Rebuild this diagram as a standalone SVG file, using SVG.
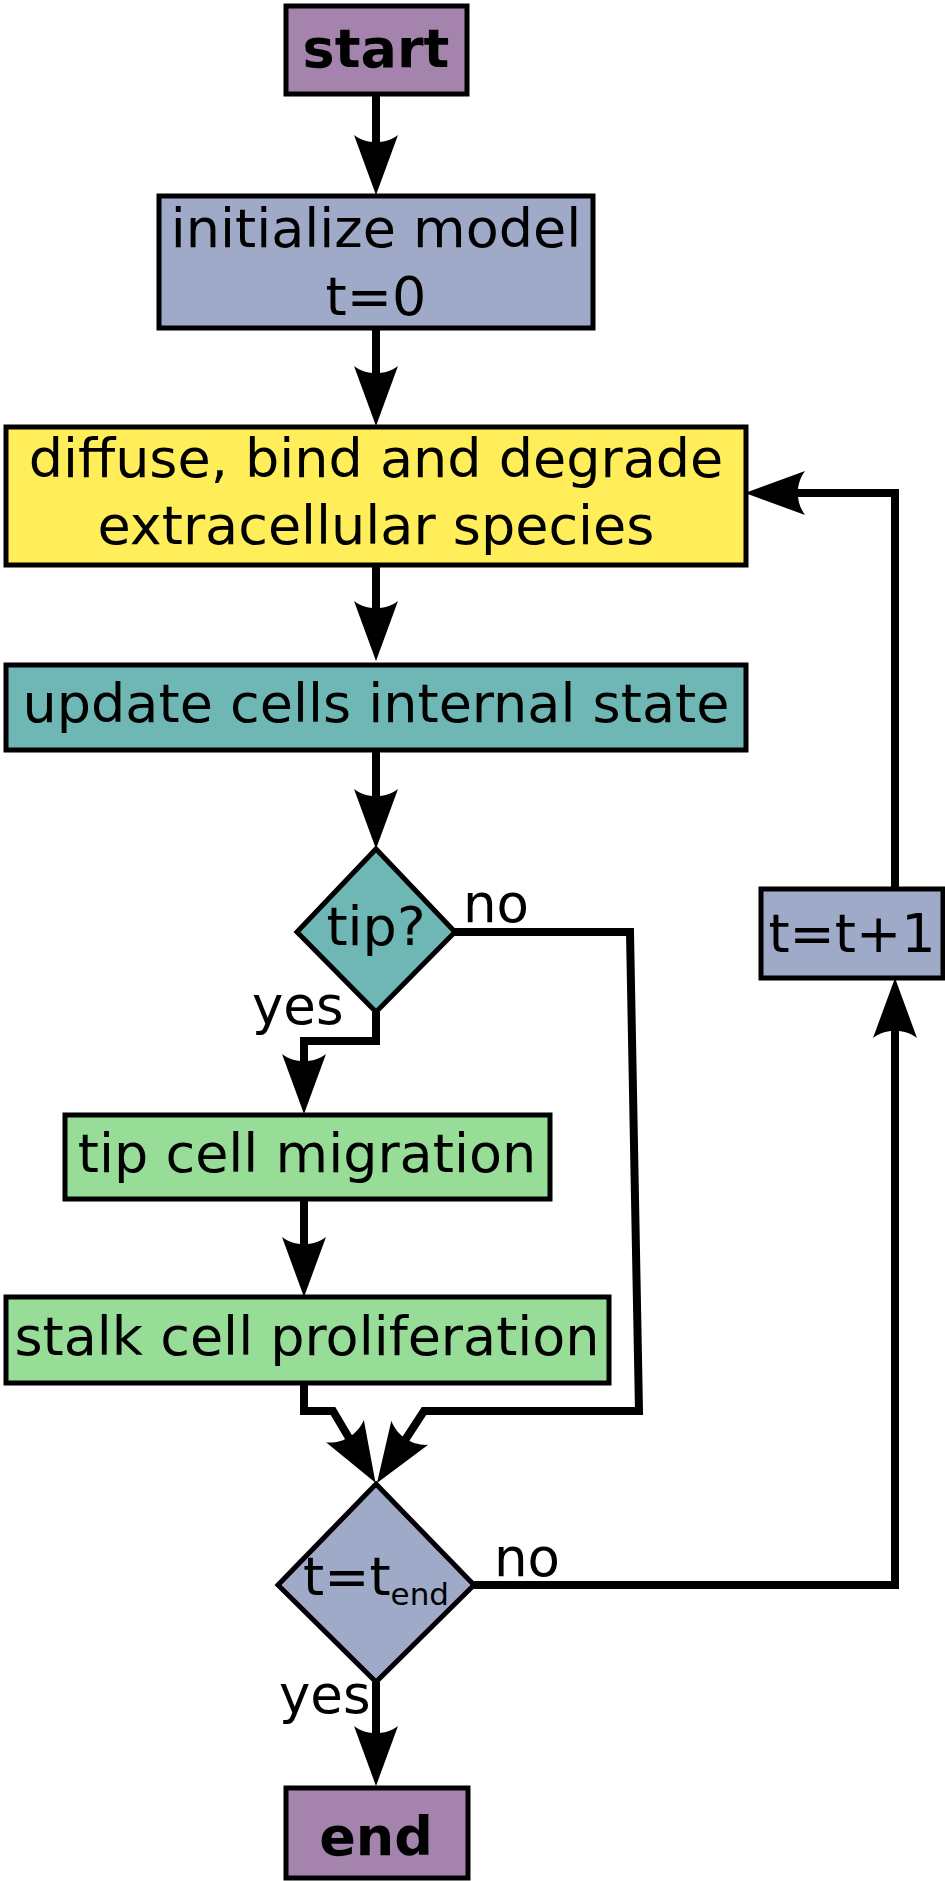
<svg xmlns="http://www.w3.org/2000/svg" width="945" height="1881" viewBox="0 0 945 1881">
  <style>
    .box { stroke: #000; stroke-width: 5; stroke-linejoin: miter; }
    .term { fill: #a484ac; }
    .grey { fill: #9eaac7; }
    .yellow { fill: #ffee5a; }
    .teal { fill: #6fb7b4; }
    .green { fill: #97dd97; }
    .t { font-family: "DejaVu Sans", "Noto Sans", sans-serif; font-size: 54px; fill: #000; text-anchor: middle; }
    .b { font-weight: bold; }
    .lbl { font-family: "DejaVu Sans", "Noto Sans", sans-serif; font-size: 53px; fill: #000; }
    .conn { fill: none; stroke: #000; stroke-width: 8; stroke-linejoin: miter; stroke-linecap: butt; }
  </style>
  <defs>
    <marker id="arrow" markerUnits="userSpaceOnUse" markerWidth="70" markerHeight="50" viewBox="0 -25 70 50" refX="8" refY="0" orient="auto" overflow="visible">
      <path d="M60,0 L0,-22 C9.6,-9 9.6,9 0,22 Z" fill="#000"/>
    </marker>
  </defs>
  <rect width="945" height="1881" fill="#fff"/>

  <g id="connectors">
    <path class="conn" d="M376,94 V143" marker-end="url(#arrow)"/>
    <path class="conn" d="M376,328 V374" marker-end="url(#arrow)"/>
    <path class="conn" d="M376,565 V609" marker-end="url(#arrow)"/>
    <path class="conn" d="M376,750 V797" marker-end="url(#arrow)"/>
    <path class="conn" d="M376,1012 V1041 H304 V1062" marker-end="url(#arrow)"/>
    <path class="conn" d="M304,1199 V1245" marker-end="url(#arrow)"/>
    <path class="conn" d="M304,1383 V1411 H333 L349,1438" marker-end="url(#arrow)"/>
    <path class="conn" d="M455,932 H630 L639,1411 H424 L405.4,1439.5" marker-end="url(#arrow)"/>
    <path class="conn" d="M474,1585 H895 V1030" marker-end="url(#arrow)"/>
    <path class="conn" d="M895,889 V493 H797" marker-end="url(#arrow)"/>
    <path class="conn" d="M376,1682 V1734" marker-end="url(#arrow)"/>
    <text class="lbl" x="463" y="922">no</text>
    <text class="lbl" x="252" y="1024">yes</text>
    <text class="lbl" x="494" y="1576">no</text>
    <text class="lbl" x="279" y="1713">yes</text>
  </g>

  <g id="start">
    <rect class="box term" x="286" y="6" width="181" height="88"/>
    <text class="t b" x="376" y="67">start</text>
  </g>
  <g id="init">
    <rect class="box grey" x="159" y="196" width="434" height="132"/>
    <text class="t" x="376" y="247">initialize model</text>
    <text class="t" x="376" y="315">t=0</text>
  </g>
  <g id="diffuse">
    <rect class="box yellow" x="6" y="427" width="740" height="138"/>
    <text class="t" x="376" y="477">diffuse, bind and degrade</text>
    <text class="t" x="376" y="544">extracellular species</text>
  </g>
  <g id="update">
    <rect class="box teal" x="6" y="665" width="740" height="85"/>
    <text class="t" x="376" y="722">update cells internal state</text>
  </g>
  <g id="tip">
    <polygon class="box teal" points="376,849 455,932 376,1012 297,932"/>
    <text class="t" x="376" y="945">tip?</text>
  </g>
  <g id="migration">
    <rect class="box green" x="65" y="1115" width="485" height="84"/>
    <text class="t" x="307" y="1172">tip cell migration</text>
  </g>
  <g id="stalk">
    <rect class="box green" x="6" y="1297" width="603" height="86"/>
    <text class="t" x="307" y="1355">stalk cell proliferation</text>
  </g>
  <g id="increment">
    <rect class="box grey" x="761" y="889" width="182" height="89"/>
    <text class="t" x="852" y="952">t=t+1</text>
  </g>
  <g id="tend">
    <polygon class="box grey" points="376,1484 474,1585 376,1682 278,1585"/>
    <text class="t" x="376" y="1595">t=t<tspan font-size="31" dy="10">end</tspan></text>
  </g>
  <g id="end">
    <rect class="box term" x="286" y="1788" width="182" height="90"/>
    <text class="t b" x="376" y="1855">end</text>
  </g>
</svg>
